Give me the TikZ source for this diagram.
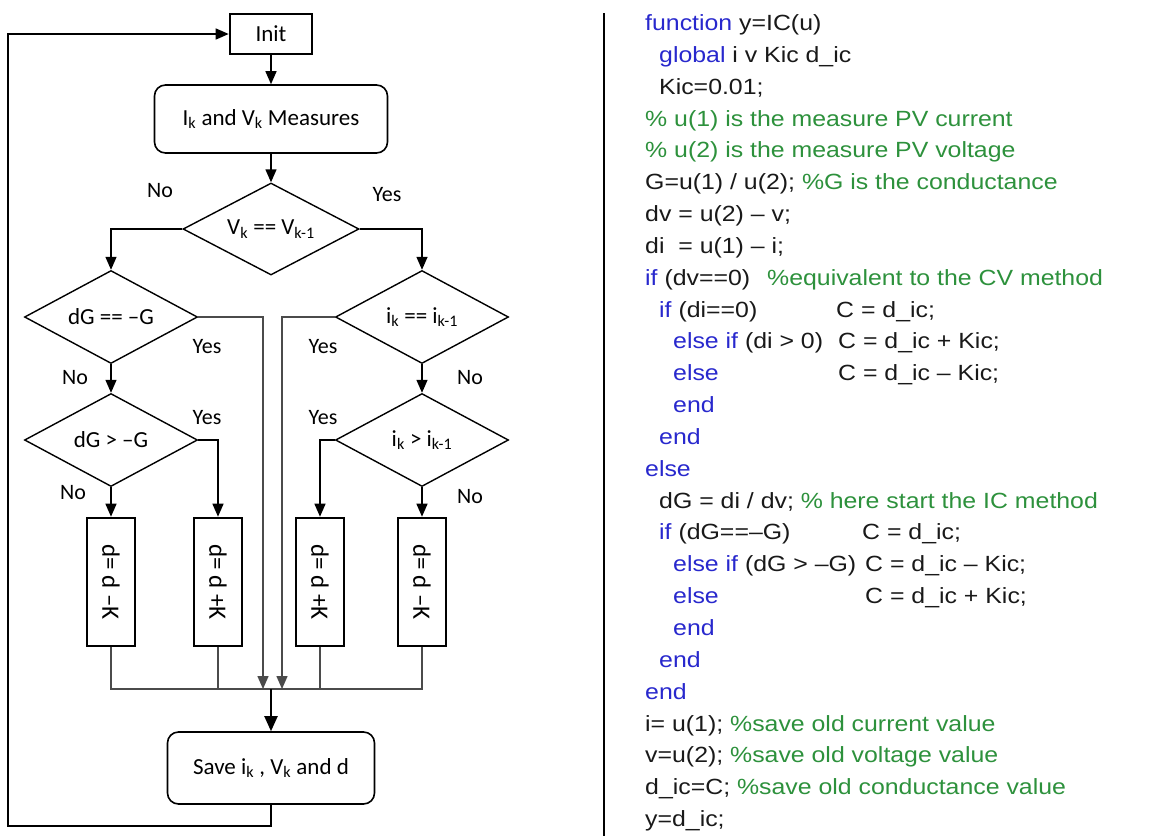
\documentclass[tikz,border=0pt]{standalone}
\usepackage{fontspec}
\usepackage{graphicx}
\setmainfont{Carlito}
\newfontfamily\codefont[FakeStretch=1.13]{Liberation Sans}
\usetikzlibrary{arrows.meta,shapes.geometric}
\definecolor{kw}{RGB}{40,40,205}
\definecolor{cm}{RGB}{45,145,60}
\definecolor{tx}{RGB}{25,25,25}
\definecolor{ln}{RGB}{75,75,75}
\begin{document}
\begin{tikzpicture}[x=1pt,y=-1pt,
  font=\fontsize{23}{27}\selectfont,
  conn/.style={line width=1.4pt,-{Triangle[length=13pt,width=11pt]}},
  bigconn/.style={line width=2pt,-{Triangle[length=15pt,width=13pt]}},
  plain/.style={line width=1.4pt},
  grayline/.style={line width=1.2pt,draw=ln},
  dia/.style={diamond,draw,line width=1.4pt,aspect=1.86,minimum width=173pt,minimum height=93pt,inner sep=0pt},
  rbox/.style={draw,rounded corners=11pt,line width=1.6pt,inner sep=0pt},
  thickbox/.style={draw,line width=2.6pt,inner sep=0pt},
  dbox/.style={draw,line width=2.6pt,inner sep=0pt,minimum width=48pt,minimum height=128pt,font=\fontsize{25}{28}\selectfont},
  lbl/.style={inner sep=0pt,font=\fontsize{22}{26}\selectfont},
  code/.style={anchor=base west,inner sep=0pt,text=tx,font=\codefont\fontsize{22}{26}\selectfont}
]
\useasboundingbox (0,0) rectangle (1168,836);

% ---------- flowchart ----------
\node[thickbox,minimum width=82pt,minimum height=40pt] (init) at (271,34) {Init};
\node[rbox,minimum width=233pt,minimum height=68pt] (meas) at (271,119) {I\textsubscript{k} and V\textsubscript{k} Measures};
\node[dia,minimum width=176pt,minimum height=92pt] (d1) at (271,229) {V\textsubscript{k} == V\textsubscript{k-1}};
\node[dia] (d2) at (111,317) {dG == –G};
\node[dia] (d3) at (111,440) {dG > –G};
\node[dia] (d4) at (422,317) {i\textsubscript{k} == i\textsubscript{k-1}};
\node[dia] (d5) at (422,440) {i\textsubscript{k} > i\textsubscript{k-1}};
\node[dbox] (b1) at (111,582) {\rotatebox{-90}{d= d –K}};
\node[dbox] (b2) at (218,582) {\rotatebox{-90}{d= d +K}};
\node[dbox] (b3) at (320,582) {\rotatebox{-90}{d= d +K}};
\node[dbox] (b4) at (422,582) {\rotatebox{-90}{d= d –K}};
\node[rbox,minimum width=207pt,minimum height=72pt] (save) at (271,768) {Save i\textsubscript{k} , V\textsubscript{k} and d};

\coordinate (j1) at (263,689);
\coordinate (j2) at (282,689);
\coordinate (jm) at (271,689);
\coordinate (lb) at (8,826);

% labels
\node[lbl] (l1) at (160,191) {No};
\node[lbl] (l2) at (387,195) {Yes};
\node[lbl] (l3) at (207,347) {Yes};
\node[lbl] (l4) at (75,378) {No};
\node[lbl] (l5) at (207,418) {Yes};
\node[lbl] (l6) at (73,493) {No};
\node[lbl] (l7) at (323,347) {Yes};
\node[lbl] (l8) at (470,378) {No};
\node[lbl] (l9) at (323,418) {Yes};
\node[lbl] (l10) at (470,497) {No};

% connectors
\draw[conn] (init) -- (meas);
\draw[conn] (meas) -- (d1);
\draw[conn] (d1.west) -| (d2.north);
\draw[conn] (d1.east) -| (d4.north);
\draw[conn] (d2) -- (d3);
\draw[conn] (d4) -- (d5);
\draw[conn] (d3.east) -| (b2.north);
\draw[conn] (d3) -- (b1);
\draw[conn] (d5.west) -| (b3.north);
\draw[conn] (d5) -- (b4);
\draw[conn,draw=ln] (d2.east) -| (j1);
\draw[conn,draw=ln] (d4.west) -| (j2);
\draw[grayline] (b1.south) |- (jm) -| (b4.south);
\draw[grayline] (b2.south) -- (b2.south |- jm);
\draw[grayline] (b3.south) -- (b3.south |- jm);
\draw[bigconn] (jm) -- (save);
\draw[conn,line width=1.5pt] (save.south) |- (lb) |- (init.west);

% separator
\coordinate (s1) at (604,13);
\coordinate (s2) at (604,836);
\draw[line width=1.4pt] (s1) -- (s2);

% ---------- code ----------
\node[code] (c0) at (645,30.5) {\textcolor{kw}{function} y=IC(u)};
\node[code] (c1) at (659,62.3) {\textcolor{kw}{global} i v Kic d\_ic};
\node[code] (c2) at (659,94.2) {Kic=0.01;};
\node[code,text=cm] (c3) at (645,126.0) {\% u(1) is the measure PV current};
\node[code,text=cm] (c4) at (645,157.9) {\% u(2) is the measure PV voltage};
\node[code] (c5) at (645,189.7) {G=u(1) / u(2); \textcolor{cm}{\%G is the conductance}};
\node[code] (c6) at (645,221.5) {dv = u(2) – v;};
\node[code] (c7) at (645,253.4) {di\ \ = u(1) – i;};
\node[code] (c8) at (645,285.2) {\textcolor{kw}{if} (dv==0)};
\node[code,text=cm] (c8b) at (767,285.2) {\%equivalent to the CV method};
\node[code] (c9) at (659,317.1) {\textcolor{kw}{if} (di==0)};
\node[code] (c9b) at (836,317.1) {C = d\_ic;};
\node[code] (c10) at (673,348.9) {\textcolor{kw}{else if} (di > 0)};
\node[code] (c10b) at (838,348.9) {C = d\_ic + Kic;};
\node[code,text=kw] (c11) at (673,380.7) {else};
\node[code] (c11b) at (838,380.7) {C = d\_ic – Kic;};
\node[code,text=kw] (c12) at (673,412.6) {end};
\node[code,text=kw] (c13) at (659,444.4) {end};
\node[code,text=kw] (c14) at (645,476.3) {else};
\node[code] (c15) at (659,508.1) {dG = di / dv; \textcolor{cm}{\% here start the IC method}};
\node[code] (c16) at (659,539.9) {\textcolor{kw}{if} (dG==–G)};
\node[code] (c16b) at (862,539.9) {C = d\_ic;};
\node[code] (c17) at (673,571.8) {\textcolor{kw}{else if} (dG > –G)};
\node[code] (c17b) at (865,571.8) {C = d\_ic – Kic;};
\node[code,text=kw] (c18) at (673,603.6) {else};
\node[code] (c18b) at (865,603.6) {C = d\_ic + Kic;};
\node[code,text=kw] (c19) at (673,635.5) {end};
\node[code,text=kw] (c20) at (659,667.3) {end};
\node[code,text=kw] (c21) at (645,699.1) {end};
\node[code] (c22) at (645,731.0) {i= u(1); \textcolor{cm}{\%save old current value}};
\node[code] (c23) at (645,762.8) {v=u(2); \textcolor{cm}{\%save old voltage value}};
\node[code] (c24) at (645,794.7) {d\_ic=C; \textcolor{cm}{\%save old conductance value}};
\node[code] (c25) at (645,826.5) {y=d\_ic;};
\end{tikzpicture}
\end{document}
